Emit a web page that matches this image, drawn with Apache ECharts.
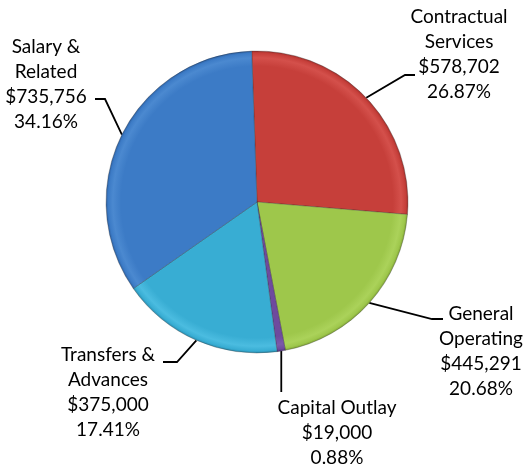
<!DOCTYPE html>
<html>
<head>
<meta charset="utf-8">
<script src="https://cdn.jsdelivr.net/npm/echarts@6/dist/echarts.min.js"></script>
<style>
  html, body { margin: 0; padding: 0; background: #ffffff; }
  #chart { width: 528px; height: 465px; }
</style>
</head>
<body>
<div id="chart"></div>
<script>
// Budget by expense category, clockwise from the top
const categories = ['Contractual\nServices', 'General\nOperating', 'Capital Outlay', 'Transfers &\nAdvances', 'Salary &\nRelated'];
const amounts = [578702, 445291, 19000, 375000, 735756];

// Slice colours: [body, rim highlight, outer edge]
const sliceColors = [
  ['#C63F3A', '#D4504B', '#A3302C'],
  ['#9EC74B', '#ABD25A', '#7FA236'],
  ['#6E4A9E', '#7C59AA', '#533580'],
  ['#38ADD3', '#4BBCE0', '#2A8CAF'],
  ['#3C7BC6', '#4B89D0', '#2D61A3']
];

// Label placement: text centre x, top y, and leader line bend points near the text
const labelSpots = [
  { cx: 459, top: 4,   bend: [[405, 75], [415, 75]] },
  { cx: 481, top: 301, bend: [[432, 319], [443, 319]] },
  { cx: 337, top: 395, bend: null, dropTo: 392 },
  { cx: 108, top: 342, bend: [[177, 362], [163, 362]] },
  { cx: 46,  top: 34,  bend: [[105, 99], [95, 99]] }
];

const pieCenter = [257, 202];
const pieRadius = 151;

const total = amounts.reduce((a, b) => a + b, 0);
const withCommas = v => String(v).replace(/\B(?=(\d{3})+(?!\d))/g, ',');

// Radial fill that gives each slice a soft bevelled rim
function sliceFill(c) {
  return {
    type: 'radial', x: pieCenter[0], y: pieCenter[1], r: pieRadius, global: true,
    colorStops: [
      { offset: 0, color: c[0] },
      { offset: 0.9, color: c[0] },
      { offset: 0.955, color: c[1] },
      { offset: 0.985, color: c[0] },
      { offset: 1, color: c[2] }
    ]
  };
}

const chart = echarts.init(document.getElementById('chart'), null, { renderer: 'canvas' });

chart.setOption({
  animation: false,
  backgroundColor: '#ffffff',
  series: [{
    type: 'pie',
    center: pieCenter,
    radius: pieRadius,
    startAngle: 92,
    clockwise: true,
    avoidLabelOverlap: false,
    data: categories.map((name, i) => ({
      name: name,
      value: amounts[i],
      itemStyle: { color: sliceFill(sliceColors[i]) }
    })),
    itemStyle: { borderColor: 'rgba(40,40,40,0.3)', borderWidth: 1 },
    label: {
      show: true,
      position: 'outside',
      fontFamily: 'Lato',
      fontSize: 19,
      lineHeight: 25,
      color: '#000000',
      formatter: p => p.name + '\n$' + withCommas(p.value) + '\n' + (p.value / total * 100).toFixed(2) + '%'
    },
    labelLine: {
      show: true,
      length: 10,
      length2: 10,
      lineStyle: { color: '#000000', width: 1.8 }
    },
    labelLayout: function (params) {
      const spot = labelSpots[params.dataIndex];
      const start = params.labelLinePoints[0];
      const pts = spot.bend
        ? [start, spot.bend[0], spot.bend[1]]
        : [start, [start[0], (start[1] + spot.dropTo) / 2], [start[0], spot.dropTo]];
      return {
        x: spot.cx,
        y: spot.top,
        align: 'center',
        verticalAlign: 'top',
        labelLinePoints: pts
      };
    },
    emphasis: { disabled: true }
  }]
});
</script>
</body>
</html>
